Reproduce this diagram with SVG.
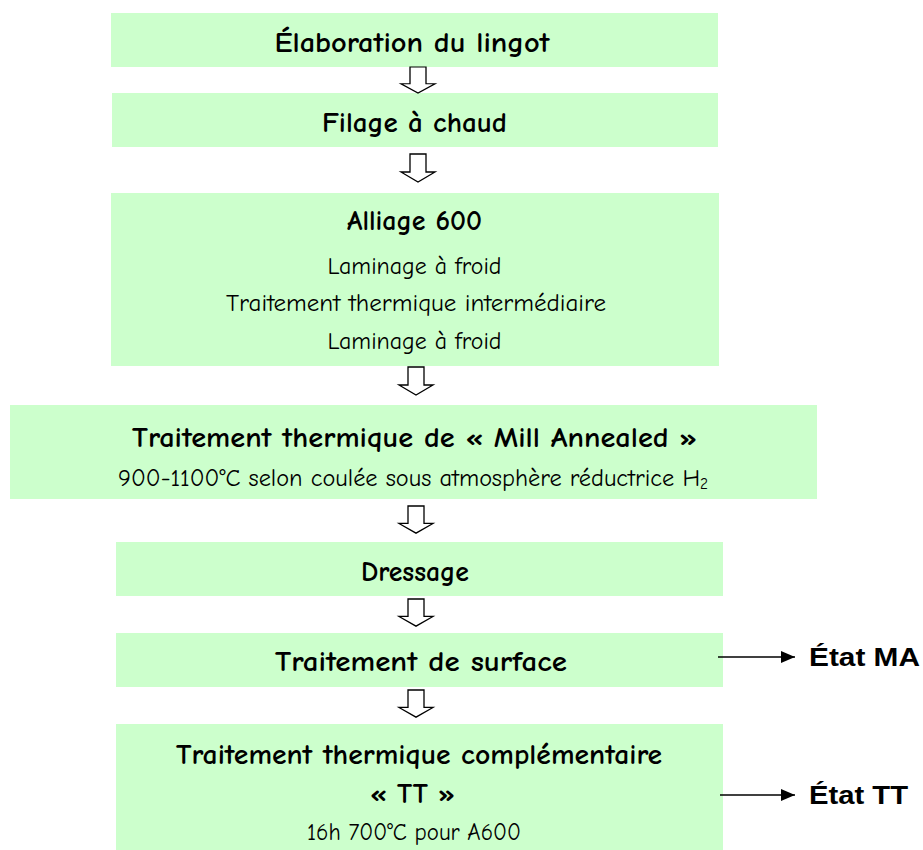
<svg xmlns="http://www.w3.org/2000/svg" width="923" height="850" viewBox="0 0 923 850">
<defs>
<style>
.box{fill:#CCFFCC;stroke:none}
.b{font-family:"Comic Sans MS","Comic Neue","DejaVu Sans",sans-serif;font-weight:bold;font-size:28px;fill:#000;text-anchor:middle}
.r{font-family:"Comic Sans MS","Comic Neue","DejaVu Sans",sans-serif;font-size:24px;fill:#000;text-anchor:middle}
.lbl{font-family:"Liberation Sans",Arial,sans-serif;font-weight:bold;font-size:25px;fill:#000}
.blk{fill:#fff;stroke:#000;stroke-width:1.3}
.ln{stroke:#000;stroke-width:1.5;fill:none}
</style>
<marker id="ah" viewBox="0 0 10 10" refX="10" refY="5" markerWidth="14" markerHeight="12" markerUnits="userSpaceOnUse" orient="auto" preserveAspectRatio="none">
<path d="M0,0 L10,5 L0,10 z" fill="#000"/>
</marker>
<path id="blkarrow" d="M-8,0 L8,0 L8,18 L17,18 L0,28 L-17,18 L-8,18 z"/>
</defs>
<g id="n1"><rect class="box" x="111" y="13" width="607" height="54"/><text class="b" x="412" y="52" textLength="275" lengthAdjust="spacingAndGlyphs">Élaboration du lingot</text></g>
<g id="n2"><rect class="box" x="112" y="93" width="606" height="54"/><text class="b" x="414.5" y="132" textLength="185" lengthAdjust="spacingAndGlyphs">Filage à chaud</text></g>
<g id="n3"><rect class="box" x="111" y="193" width="608" height="173"/>
<text class="b" x="414.5" y="230" textLength="135" lengthAdjust="spacingAndGlyphs">Alliage 600</text>
<text class="r" x="414.5" y="274" textLength="174" lengthAdjust="spacingAndGlyphs">Laminage à froid</text>
<text class="r" x="416" y="311" textLength="380" lengthAdjust="spacingAndGlyphs">Traitement thermique intermédiaire</text>
<text class="r" x="414.5" y="349" textLength="174" lengthAdjust="spacingAndGlyphs">Laminage à froid</text></g>
<g id="n4"><rect class="box" x="10" y="405" width="807" height="94"/>
<text class="b" x="414.5" y="447" textLength="565" lengthAdjust="spacingAndGlyphs">Traitement thermique de « Mill Annealed »</text>
<text class="r" x="413" y="486" textLength="590" lengthAdjust="spacingAndGlyphs">900-1100°C selon coulée sous atmosphère réductrice H<tspan font-size="15" dy="3">2</tspan></text></g>
<g id="n5"><rect class="box" x="116" y="542" width="607" height="54"/><text class="b" x="415" y="581" textLength="108" lengthAdjust="spacingAndGlyphs">Dressage</text></g>
<g id="n6"><rect class="box" x="116" y="633" width="607" height="54"/><text class="b" x="421" y="671" textLength="292" lengthAdjust="spacingAndGlyphs">Traitement de surface</text></g>
<g id="n7"><rect class="box" x="116" y="724" width="607" height="126"/>
<text class="b" x="419" y="764" textLength="486" lengthAdjust="spacingAndGlyphs">Traitement thermique complémentaire</text>
<text class="b" x="412.5" y="803" textLength="85" lengthAdjust="spacingAndGlyphs">« TT »</text>
<text class="r" x="414" y="840" textLength="214" lengthAdjust="spacingAndGlyphs">16h 700°C pour A600</text></g>
<g id="e1"><text class="lbl" x="809" y="666" textLength="111" lengthAdjust="spacingAndGlyphs">État MA</text></g>
<g id="e2"><text class="lbl" x="809" y="804" textLength="99" lengthAdjust="spacingAndGlyphs">État TT</text></g>
<g id="connectors">
<use href="#blkarrow" class="blk" transform="translate(418,67) scale(1,0.93)"/>
<use href="#blkarrow" class="blk" transform="translate(418,154) scale(1,1.0)"/>
<use href="#blkarrow" class="blk" transform="translate(416,367) scale(1,1.0)"/>
<use href="#blkarrow" class="blk" transform="translate(416,506) scale(1,0.97)"/>
<use href="#blkarrow" class="blk" transform="translate(416,599) scale(1,0.97)"/>
<use href="#blkarrow" class="blk" transform="translate(416,690) scale(1,0.97)"/>
<line class="ln" x1="718" y1="657" x2="795" y2="657" marker-end="url(#ah)"/>
<line class="ln" x1="720" y1="795" x2="795" y2="795" marker-end="url(#ah)"/>
</g>
</svg>
